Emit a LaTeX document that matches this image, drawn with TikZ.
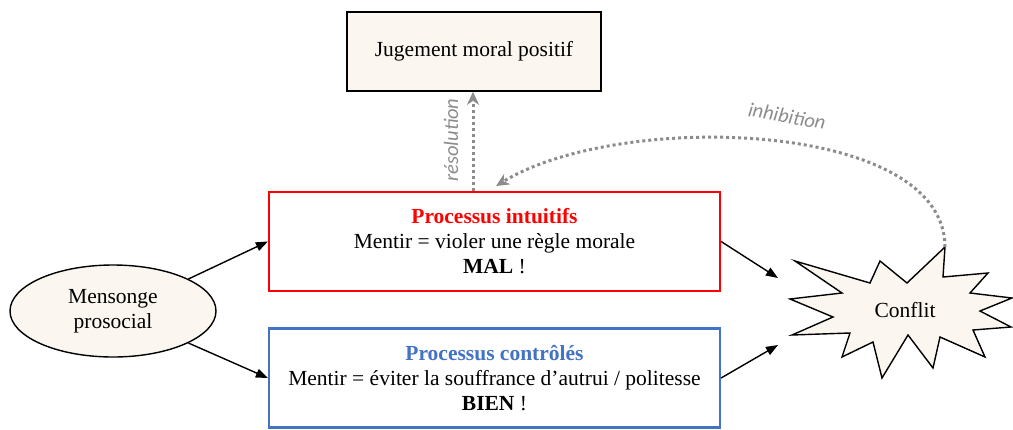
\documentclass[tikz,border=0pt]{standalone}
\usepackage{fontspec}
\setmainfont{Liberation Serif}
\newfontfamily\labfont{Carlito}
\usetikzlibrary{arrows.meta,shapes.geometric}
\definecolor{cream}{HTML}{FBF7F0}
\definecolor{myred}{HTML}{FF0000}
\definecolor{myblue}{HTML}{4472C4}
\definecolor{dotgray}{RGB}{140,140,140}
\begin{document}
\begin{tikzpicture}[x=1pt,y=-1pt,
  every node/.style={font=\fontsize{21.5}{25}\selectfont},
  boxa/.style={draw, line width=1.6pt, fill=cream, minimum width=254pt, minimum height=79pt, inner sep=0pt},
  procbox/.style={draw, line width=2.2pt, fill=white, minimum width=451pt, inner sep=0pt, align=center},
  ell/.style={ellipse, draw, line width=1.4pt, fill=cream, minimum width=206pt, minimum height=92pt, inner sep=0pt, align=center},
  arr/.style={line width=1.4pt, -{Triangle[length=12pt,width=9pt]}},
  dotarr/.style={line width=3pt, dotgray, dash pattern=on 3pt off 3pt, -{Stealth[length=13pt,width=12pt,inset=4pt]}},
  lab/.style={font=\labfont\itshape\fontsize{20.5}{23}\selectfont, text=dotgray, inner sep=1pt}
]
\useasboundingbox (0,0) rectangle (1013,429);

\node[boxa] (jug) at (474,51.5) {Jugement moral positif};
\node[procbox, draw=myred, minimum height=99pt] (intu) at (494.5,241.5)
  {\textcolor{myred}{\textbf{Processus intuitifs}}\\Mentir = violer une règle morale\\\textbf{MAL} !};
\node[procbox, draw=myblue, minimum height=99pt] (ctrl) at (494.5,378)
  {\textcolor{myblue}{\textbf{Processus contrôlés}}\\Mentir = éviter la souffrance d’autrui / politesse\\\textbf{BIEN} !};
\node[ell] (mens) at (113,311) {Mensonge\\prosocial};

% star
\draw[line width=1.4pt, fill=cream, line join=miter]
  (795,261) -- (870,283) -- (880,261) -- (907,283) -- (945,247) -- (943,277)
  -- (988,273) -- (970,293) -- (1012,298) -- (980,311) -- (1011,327)
  -- (973,330) -- (985,357) -- (940,337) -- (933,368) -- (908,335)
  -- (882,378) -- (873,342) -- (842,357) -- (850,333) -- (792,335)
  -- (833,317) -- (790,299) -- (842,293) -- cycle;
\node (confl) at (905,310) {Conflit};
\coordinate (startop) at (945,247);
\coordinate (cin1) at (778,278);
\coordinate (cin2) at (778,345);
\coordinate (inhend) at (496,186);

\draw[arr] (mens.23) -- (intu.west);
\draw[arr] (mens.-23) -- (ctrl.west);
\draw[arr] (intu.east) -- (cin1);
\draw[arr] (ctrl.east) -- (cin2);

\draw[dotarr] (intu.north -| 473,0) -- (jug.south -| 473,0);
\node[lab, rotate=90] (res) at (451,140) {résolution};

\draw[dotarr] (startop) .. controls (945,120) and (620,110) .. (inhend);
\node[lab, rotate=-10] (inh) at (787,116) {inhibition};
\end{tikzpicture}
\end{document}
